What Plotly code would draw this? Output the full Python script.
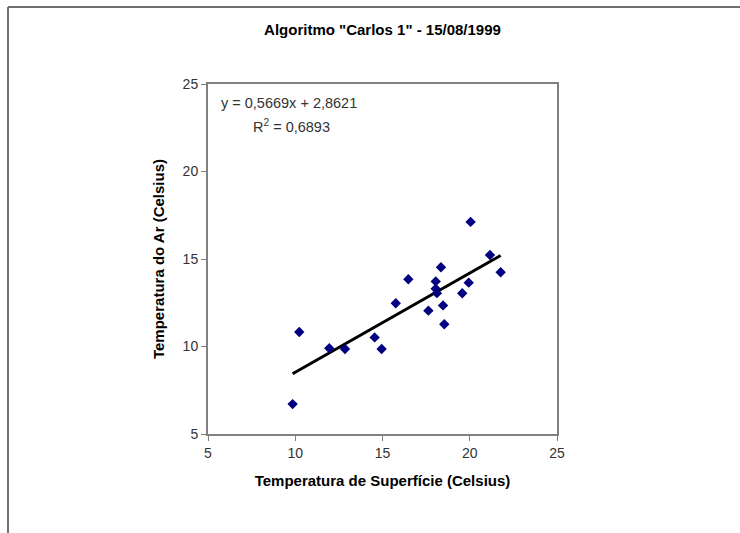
import plotly.graph_objects as go

# Data
temp_superficie = [9.85, 10.23, 11.95, 12.85, 14.55, 14.95, 15.76, 16.48, 17.63, 18.05,
                   18.05, 18.12, 18.35, 18.47, 18.54, 19.57, 19.94, 20.05, 21.16, 21.77]
temp_ar = [6.71, 10.83, 9.90, 9.86, 10.52, 9.86, 12.47, 13.84, 12.05, 13.72,
           13.30, 13.05, 14.53, 12.35, 11.27, 13.04, 13.65, 17.12, 15.23, 14.24]
slope = 0.5669
intercept = 2.8621
r2 = 0.6893
axis_ticks = [5, 10, 15, 20, 25]

x_min, x_max = min(temp_superficie), max(temp_superficie)
trend_x = [x_min, x_max]
trend_y = [slope * v + intercept for v in trend_x]

fig = go.Figure()
fig.add_trace(go.Scatter(
    x=trend_x, y=trend_y, mode="lines",
    line=dict(color="black", width=3), showlegend=False, hoverinfo="skip"))
fig.add_trace(go.Scatter(
    x=temp_superficie, y=temp_ar, mode="markers",
    marker=dict(symbol="diamond", color="#000080", size=8), showlegend=False))

W, H = 740, 533
L, R, T, B = 208, 557, 84, 434
pw, ph = R - L, B - T

def px(xp):
    return (xp - L) / pw

def py(yp):
    return (B - yp) / ph

FONT = "Liberation Sans, Arial"

axis_common = dict(
    range=[5, 25], tickvals=axis_ticks, showgrid=False, zeroline=False,
    showline=True, linecolor="#808080", linewidth=2, mirror=True,
    ticks="outside", ticklen=5, tickcolor="#808080", tickwidth=1,
    tickfont=dict(family=FONT, size=14, color="#333333"),
)

fig.update_layout(
    width=W, height=H,
    margin=dict(l=L, r=W - R, t=T, b=H - B),
    paper_bgcolor="white", plot_bgcolor="white",
    xaxis=dict(**axis_common,
               title=dict(text="<b>Temperatura de Superfície (Celsius)</b>",
                          font=dict(family=FONT, size=15, color="black"),
                          standoff=16)),
    yaxis=dict(**axis_common,
               title=dict(text="<b>Temperatura do Ar (Celsius)</b>",
                          font=dict(family=FONT, size=15, color="black"),
                          standoff=14)),
    title=dict(text='<b>Algoritmo "Carlos 1" - 15/08/1999</b>',
               x=0.5, xref="paper", xanchor="center",
               y=1 - 30 / H, yref="container", yanchor="middle",
               font=dict(family=FONT, size=15, color="black")),
    shapes=[
        dict(type="line", xref="paper", yref="paper",
             x0=px(8), y0=py(H), x1=px(8), y1=py(7),
             line=dict(color="#707070", width=2)),
        dict(type="line", xref="paper", yref="paper",
             x0=px(8), y0=py(7), x1=px(W), y1=py(7),
             line=dict(color="#707070", width=2)),
    ],
    annotations=[
        dict(text="y = 0,5669x + 2,8621", xref="paper", yref="paper",
             x=px(219), y=py(103), xanchor="left", yanchor="middle", showarrow=False,
             font=dict(family=FONT, size=14.5, color="#333333")),
        dict(text="R<sup>2</sup> = 0,6893", xref="paper", yref="paper",
             x=px(251), y=py(126), xanchor="left", yanchor="middle", showarrow=False,
             font=dict(family=FONT, size=14.5, color="#333333")),
    ],
)

fig.write_html("out.html", config={"displayModeBar": False},
               post_script="document.body.style.margin='0px';document.body.style.overflow='hidden';")
